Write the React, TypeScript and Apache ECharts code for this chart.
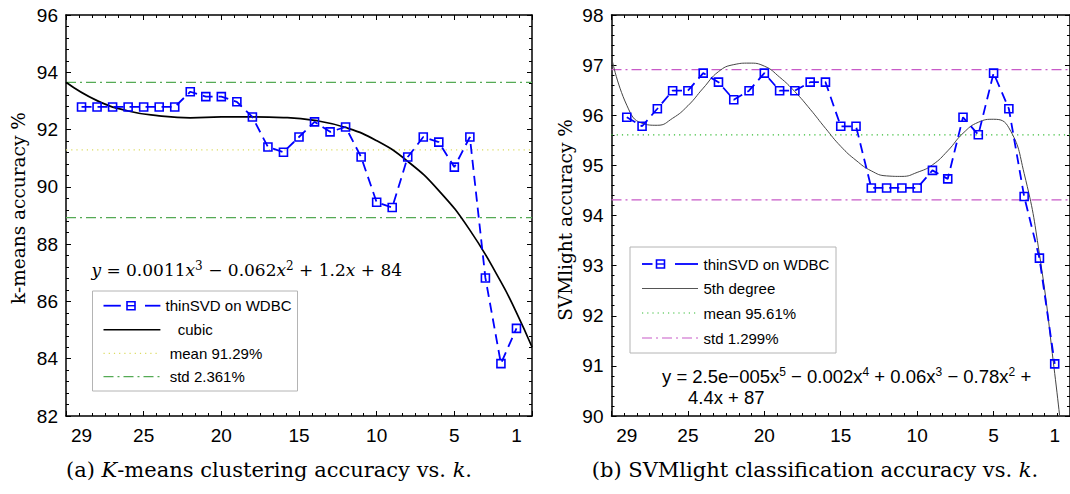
import React, { useEffect, useRef } from "react";
import * as echarts from "echarts";

// ---- data ----
const kValues = [29, 28, 27, 26, 25, 24, 23, 22, 21, 20, 19, 18, 17, 16, 15, 14, 13, 12, 11, 10, 9, 8, 7, 6, 5, 4, 3, 2, 1];
const kmeansAcc = [92.79, 92.79, 92.79, 92.79, 92.79, 92.79, 92.79, 93.32, 93.15, 93.15, 92.97, 92.44, 91.39, 91.21, 91.74, 92.27, 91.92, 92.09, 91.04, 89.46, 89.28, 91.04, 91.74, 91.56, 90.69, 91.74, 86.82, 83.83, 85.06];
const svmAcc = [95.96, 95.78, 96.13, 96.49, 96.49, 96.84, 96.66, 96.31, 96.49, 96.84, 96.49, 96.49, 96.66, 96.66, 95.78, 95.78, 94.55, 94.55, 94.55, 94.55, 94.90, 94.73, 95.96, 95.61, 96.84, 96.13, 94.38, 93.15, 91.04];

const kmeansFitK = [30, 28, 26, 24, 22, 20, 18, 16, 14, 12, 10, 8, 6, 4, 2, 1, 0];
const kmeansFitVal = [93.65, 93.01, 92.65, 92.48, 92.41, 92.44, 92.44, 92.42, 92.32, 92.07, 91.61, 90.89, 89.87, 88.49, 86.68, 85.61, 84.41];

const svmFitK = [30, 29, 28, 27, 26, 25, 24, 23, 22, 21, 20, 19, 18, 17, 16, 15, 14, 13, 12, 11, 10, 9, 8, 7, 6, 5, 4, 3, 2, 1, 0.5];
const svmFitVal = [97.16, 96.2, 95.84, 95.8, 95.94, 96.19, 96.54, 96.87, 97.01, 97.04, 96.98, 96.76, 96.47, 96.12, 95.74, 95.38, 95.1, 94.89, 94.79, 94.78, 94.86, 95.01, 95.29, 95.64, 95.86, 95.92, 95.75, 94.84, 93.23, 90.85, 89.5];

const kmMean = 91.29;
const kmStd = 2.361;
const svmMean = 95.61;
const svmStd = 1.299;

const xTickLabels = [29, 25, 20, 15, 10, 5, 1];
const kmYRange = [82, 96];
const svmYRange = [90, 98];

// ---- styles ----
const SANS = "Liberation Sans, Arial, sans-serif";
const SERIF = "DejaVu Serif, serif";
const BLUE = "#0000ff";
const KM_MEAN_C = "#dcdc60";
const KM_STD_C = "#55aa55";
const SVM_MEAN_C = "#33bb33";
const SVM_STD_C = "#c85ac8";
const DASHDOT = [10, 4, 2, 4];
const DOTTED = [1.2, 4];

function xAxisPair(grid: number) {
  const base = {
    type: "value",
    gridIndex: grid,
    min: 0,
    max: 30,
    interval: 5,
    inverse: true,
    axisLine: { show: true, onZero: false, lineStyle: { color: "#000", width: 1.5 } },
    axisTick: { show: true, inside: true, length: 5, lineStyle: { color: "#000", width: 1 } },
    minorTick: { show: true, splitNumber: 6, length: 3, lineStyle: { color: "#000", width: 1 } },
    splitLine: { show: false },
    minorSplitLine: { show: false },
  };
  return [
    {
      ...base,
      position: "bottom",
      axisLabel: {
        show: true,
        customValues: xTickLabels,
        color: "#000",
        fontSize: 19,
        fontFamily: SANS,
        margin: 10,
      },
    },
    { ...base, position: "top", axisLabel: { show: false } },
  ];
}

function yAxisPair(grid: number, range: number[], interval: number) {
  const base = {
    type: "value",
    gridIndex: grid,
    min: range[0],
    max: range[1],
    interval,
    axisLine: { show: true, onZero: false, lineStyle: { color: "#000", width: 1.5 } },
    axisTick: { show: true, inside: true, length: 5, lineStyle: { color: "#000", width: 1 } },
    minorTick: { show: true, splitNumber: 5, length: 3, lineStyle: { color: "#000", width: 1 } },
    splitLine: { show: false },
    minorSplitLine: { show: false },
  };
  return [
    {
      ...base,
      position: "left",
      axisLabel: { show: true, color: "#000", fontSize: 19, fontFamily: SANS, margin: 8 },
    },
    { ...base, position: "right", axisLabel: { show: false } },
  ];
}

function hLine(value: number, xi: number, color: string, dash: number[], width: number) {
  return {
    type: "line",
    xAxisIndex: xi,
    yAxisIndex: xi,
    data: [
      [30, value],
      [0, value],
    ],
    symbol: "none",
    silent: true,
    lineStyle: { color, width, type: dash },
    z: 2,
  };
}

function legendBox(
  box: { x: number; y: number; w: number; h: number },
  ys: number[],
  lx1: number,
  lx2: number,
  tx: number[],
  texts: string[],
  blue: { d1: number[]; m: number; d2: number[] },
  fitColor: string,
  fitWidth: number,
  meanColor: string,
  stdColor: string
) {
  const els: any[] = [];
  els.push({
    type: "rect",
    z: 100,
    shape: { x: box.x, y: box.y, width: box.w, height: box.h },
    style: { fill: "#fff", stroke: "#b4b4b4", lineWidth: 1 },
  });
  // blue sample
  els.push({ type: "line", z: 101, shape: { x1: blue.d1[0], y1: ys[0], x2: blue.d1[1], y2: ys[0] }, style: { stroke: BLUE, lineWidth: 1.8 } });
  els.push({ type: "line", z: 101, shape: { x1: blue.m - 4, y1: ys[0], x2: blue.m + 4, y2: ys[0] }, style: { stroke: BLUE, lineWidth: 1.4 } });
  els.push({ type: "rect", z: 101, shape: { x: blue.m - 4, y: ys[0] - 4, width: 8, height: 8 }, style: { fill: "none", stroke: BLUE, lineWidth: 1.6 } });
  els.push({ type: "line", z: 101, shape: { x1: blue.d2[0], y1: ys[0], x2: blue.d2[1], y2: ys[0] }, style: { stroke: BLUE, lineWidth: 1.8 } });
  // fit
  els.push({ type: "line", z: 101, shape: { x1: lx1, y1: ys[1], x2: lx2, y2: ys[1] }, style: { stroke: fitColor, lineWidth: fitWidth } });
  // mean
  els.push({ type: "line", z: 101, shape: { x1: lx1, y1: ys[2], x2: lx2, y2: ys[2] }, style: { stroke: meanColor, lineWidth: 1.2, lineDash: DOTTED } });
  // std
  els.push({ type: "line", z: 101, shape: { x1: lx1, y1: ys[3], x2: lx2, y2: ys[3] }, style: { stroke: stdColor, lineWidth: 1.2, lineDash: DASHDOT } });
  texts.forEach((t, i) => {
    els.push({
      type: "text",
      z: 101,
      x: tx[i],
      y: ys[i],
      style: { text: t, fill: "#000", fontSize: 15, fontFamily: SANS, align: "left", verticalAlign: "middle" },
    });
  });
  return els;
}

function buildOption() {
  const [x0, x0t] = xAxisPair(0);
  const [x1, x1t] = xAxisPair(1);
  const [y0, y0r] = yAxisPair(0, kmYRange, 2);
  const [y1, y1r] = yAxisPair(1, svmYRange, 1);

  const graphic: any[] = [
    ...legendBox(
      { x: 92.5, y: 291, w: 205, h: 100 },
      [305.7, 329.7, 353.3, 376.7],
      103.5,
      160.4,
      [165.6, 177.7, 169.7, 169.7],
      ["thinSVD on WDBC", "cubic", `mean ${kmMean}%`, `std ${kmStd}%`],
      { d1: [103.5, 120.8], m: 131, d2: [145, 160.4] },
      "#000",
      1.6,
      KM_MEAN_C,
      KM_STD_C
    ),
    ...legendBox(
      { x: 630, y: 247, w: 206, h: 106 },
      [264, 288.5, 313, 338],
      642,
      698,
      [703.5, 703.5, 703.5, 703.5],
      ["thinSVD on WDBC", "5th degree", `mean ${svmMean}%`, `std ${svmStd}%`],
      { d1: [642, 652.5], m: 660.5, d2: [675, 698] },
      "#555",
      1.2,
      SVM_MEAN_C,
      SVM_STD_C
    ),
    // left equation
    {
      type: "text",
      z: 100,
      x: 91.4,
      y: 270,
      style: {
        text: "{i|y} = 0.0011{i|x}{s|3} − 0.062{i|x}{s|2} + 1.2{i|x} + 84",
        fill: "#000",
        fontSize: 17,
        fontFamily: SERIF,
        lineHeight: 20,
        align: "left",
        verticalAlign: "middle",
        rich: {
          i: { fontStyle: "italic", fontSize: 17, fontFamily: SERIF, lineHeight: 20 },
          s: { fontSize: 12, fontFamily: SERIF, lineHeight: 12, verticalAlign: "top" },
        },
      },
    },
    // right equation
    {
      type: "text",
      z: 100,
      x: 662,
      y: 376,
      style: {
        text: "y = 2.5e−005x{s|5} − 0.002x{s|4} + 0.06x{s|3} − 0.78x{s|2} +",
        fill: "#000",
        fontSize: 18.5,
        fontFamily: SANS,
        lineHeight: 21,
        align: "left",
        verticalAlign: "middle",
        rich: {
          s: { fontSize: 12, fontFamily: SANS, lineHeight: 12, verticalAlign: "top" },
        },
      },
    },
    {
      type: "text",
      z: 100,
      x: 688,
      y: 397.5,
      style: { text: "4.4x + 87", fill: "#000", fontSize: 18.5, fontFamily: SANS, align: "left", verticalAlign: "middle" },
    },
    // axis names
    {
      type: "text",
      z: 100,
      x: 18,
      y: 208,
      rotation: Math.PI / 2,
      style: { text: "k-means accuracy %", fill: "#000", fontSize: 18.5, fontFamily: SERIF, align: "center", verticalAlign: "middle" },
    },
    {
      type: "text",
      z: 100,
      x: 565,
      y: 220,
      rotation: Math.PI / 2,
      style: { text: "SVMlight accuracy %", fill: "#000", fontSize: 18.5, fontFamily: SERIF, align: "center", verticalAlign: "middle" },
    },
    // captions
    {
      type: "text",
      z: 100,
      x: 269,
      y: 470,
      style: {
        text: "(a) {i|K}-means clustering accuracy vs. {i|k}.",
        fill: "#000",
        fontSize: 21,
        fontFamily: SERIF,
        align: "center",
        verticalAlign: "middle",
        rich: { i: { fontStyle: "italic", fontSize: 21, fontFamily: SERIF } },
      },
    },
    {
      type: "text",
      z: 100,
      x: 815,
      y: 470,
      style: {
        text: "(b) SVMlight classification accuracy vs. {i|k}.",
        fill: "#000",
        fontSize: 21,
        fontFamily: SERIF,
        align: "center",
        verticalAlign: "middle",
        rich: { i: { fontStyle: "italic", fontSize: 21, fontFamily: SERIF } },
      },
    },
  ];

  return {
    animation: false,
    backgroundColor: "#fff",
    grid: [
      { left: 66, top: 15, width: 466, height: 401 },
      { left: 611.5, top: 15, width: 466, height: 401 },
    ],
    xAxis: [x0, x0t, x1, x1t],
    yAxis: [y0, y0r, y1, y1r],
    series: [
      // left plot
      hLine(kmMean, 0, KM_MEAN_C, DOTTED, 1.2),
      hLine(kmMean + kmStd, 0, KM_STD_C, DASHDOT, 1.3),
      hLine(kmMean - kmStd, 0, KM_STD_C, DASHDOT, 1.3),
      {
        type: "line",
        xAxisIndex: 0,
        yAxisIndex: 0,
        data: kmeansFitK.map((k, i) => [k, kmeansFitVal[i]]),
        smooth: true,
        symbol: "none",
        lineStyle: { color: "#000", width: 1.7 },
        z: 3,
      },
      {
        type: "line",
        xAxisIndex: 0,
        yAxisIndex: 0,
        data: kValues.map((k, i) => [k, kmeansAcc[i]]),
        symbol: "rect",
        symbolSize: 8,
        lineStyle: { color: BLUE, width: 1.8, type: [10, 6] },
        itemStyle: { color: "rgba(0,0,0,0)", borderColor: BLUE, borderWidth: 1.6 },
        z: 4,
      },
      // right plot
      hLine(svmMean, 2, SVM_MEAN_C, DOTTED, 1.2),
      hLine(svmMean + svmStd, 2, SVM_STD_C, DASHDOT, 1.3),
      hLine(svmMean - svmStd, 2, SVM_STD_C, DASHDOT, 1.3),
      {
        type: "line",
        xAxisIndex: 2,
        yAxisIndex: 2,
        data: svmFitK.map((k, i) => [k, svmFitVal[i]]),
        smooth: true,
        symbol: "none",
        lineStyle: { color: "#444", width: 1 },
        z: 3,
      },
      {
        type: "line",
        xAxisIndex: 2,
        yAxisIndex: 2,
        data: kValues.map((k, i) => [k, svmAcc[i]]),
        symbol: "rect",
        symbolSize: 8,
        lineStyle: { color: BLUE, width: 1.8, type: [10, 6] },
        itemStyle: { color: "rgba(0,0,0,0)", borderColor: BLUE, borderWidth: 1.6 },
        z: 4,
      },
    ],
    graphic,
  };
}

export default function App() {
  const ref = useRef<HTMLDivElement>(null);
  useEffect(() => {
    const chart = echarts.init(ref.current as HTMLDivElement, null, { renderer: "svg" });
    chart.setOption(buildOption() as any);
    return () => chart.dispose();
  }, []);
  return (
    <div
      ref={ref}
      style={{ position: "absolute", left: 0, top: 0, width: 1070, height: 494, background: "#fff" }}
    />
  );
}
